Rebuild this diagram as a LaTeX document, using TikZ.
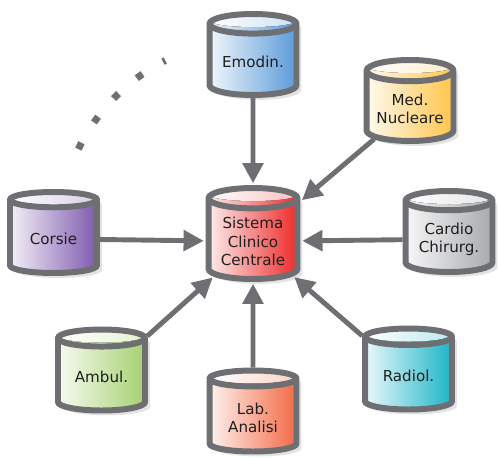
\documentclass[tikz,border=0pt]{standalone}
\usepackage{fontspec}
\setmainfont{DejaVu Sans}
\usetikzlibrary{positioning,arrows.meta,shapes.geometric,shadows}
\definecolor{rim}{HTML}{6D6F72}
\definecolor{ink}{HTML}{1E1E1E}
\definecolor{emo}{HTML}{5B9BD9}
\definecolor{med}{HTML}{FFC54A}
\definecolor{cen}{HTML}{EE2A2A}
\definecolor{cor}{HTML}{7E5AAE}
\definecolor{car}{HTML}{A7A9AC}
\definecolor{amb}{HTML}{A5D16F}
\definecolor{lab}{HTML}{F26A45}
\definecolor{rad}{HTML}{1CB5C8}
\newlength{\lidry}\setlength{\lidry}{0.13cm}
\tikzset{
  db/.style 2 args={cylinder,shape border rotate=90,aspect=0.3,draw=rim,line width=3.4pt,
    minimum width=#2,minimum height=1.62cm,inner sep=1pt,align=center,
    font=\fontsize{8.6}{10.4}\selectfont,text=ink,anchor=shape center,
    left color=#1!9,right color=#1,
    path picture={\fill[left color=white,right color=#1!30] ([yshift=-\lidry]path picture bounding box.north) ellipse [x radius=0.5*#2,y radius=\lidry];},
    drop shadow={opacity=0.22,shadow xshift=2.8pt,shadow yshift=-2.8pt}},
  feed/.style={-{Triangle[length=11.5pt,width=11.5pt]},line width=2.8pt,rim,shorten >=1pt},
  dots/.style={rim,line width=4pt,dash pattern=on 4pt off 13.6pt},
}
\begin{document}
\begin{tikzpicture}[x=0.02cm,y=0.02cm]
\useasboundingbox (0,0) rectangle (499,457);
% the central record
\node[db={cen}{1.78cm},minimum height=1.82cm] (sicc) at (253,223.5) {Sistema\\Clinico\\Centrale};
% the sources round it
\node[db={emo}{1.74cm}] (emod) at (253,402.5) {Emodin.};
\node[db={med}{1.74cm}] (medn) at (410,356.5) {Med.\\Nucleare};
\node[db={cor}{1.74cm}] (cors) at (53.5,224.5) {Corsie};
\node[db={car}{1.74cm}] (card) at (449,225.5) {Cardio\\Chirurg.};
\node[db={amb}{1.74cm}] (ambu) at (101.5,87) {Ambul.};
\node[db={lab}{1.74cm}] (labo) at (253,46) {Lab.\\Analisi};
\node[db={rad}{1.74cm}] (radi) at (408.5,88) {Radiol.};
\draw[feed] (emod) -- (sicc);
\draw[feed] (medn) -- (sicc);
\draw[feed] (cors) -- (sicc);
\draw[feed] (card) -- (sicc);
\draw[feed] (ambu) -- (sicc);
\draw[feed] (labo) -- (sicc);
\draw[feed] (radi) -- (sicc);
% more sources
\draw[dots] (sicc.shape center) ++(154.2:194) arc[start angle=154.2,end angle=116.9,radius=194];
\end{tikzpicture}
\end{document}
